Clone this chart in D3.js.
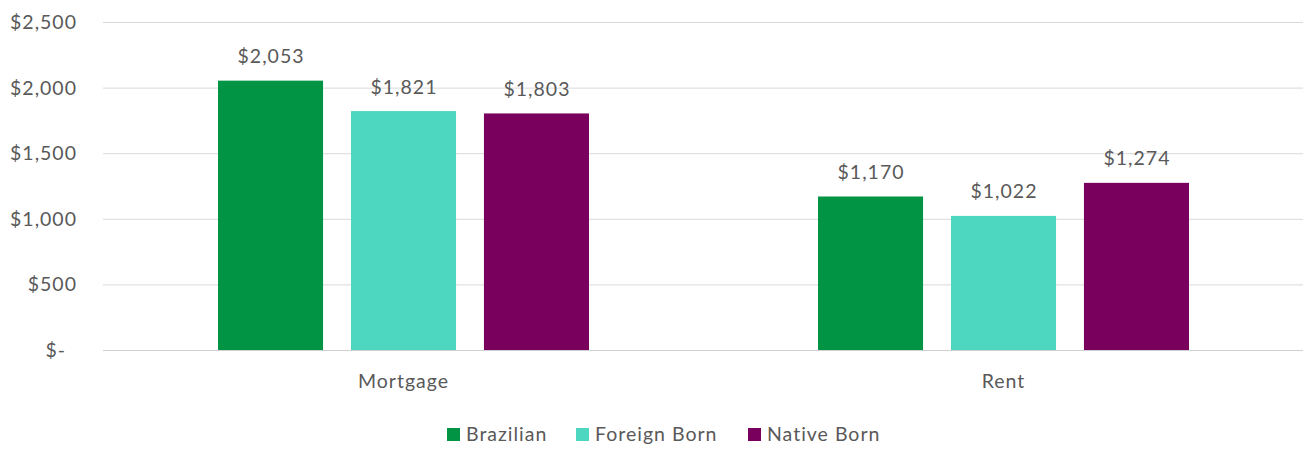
<!DOCTYPE html>
<html><head><meta charset="utf-8">
<script src="https://cdn.jsdelivr.net/npm/d3@7"></script>
<style>
body{margin:0;background:#fff;}
text{font-family:Lato,"Open Sans",sans-serif;fill:#595959;letter-spacing:1px;}
</style></head>
<body><svg id="c" width="1305" height="449"></svg>
<script>
const categories = ["Mortgage", "Rent"];
const seriesNames = ["Brazilian", "Foreign Born", "Native Born"];
const brazilian = [2053, 1170];
const foreignBorn = [1821, 1022];
const nativeBorn = [1803, 1274];
const yTicks = [0, 500, 1000, 1500, 2000, 2500];
const colors = ["#009444", "#4dd6c0", "#7a005e"];

const values = [brazilian, foreignBorn, nativeBorn];
const svg = d3.select("#c");
const x0 = d3.scaleBand().domain(categories).range([103, 1303]);
const x1 = d3.scaleBand().domain(seriesNames).range([115, 486]).paddingInner(0.21).paddingOuter(0);
const y = d3.scaleLinear().domain([0, 2500]).range([350, 22]);
const fmt = d3.format(",");
const FS = 19.5;

// gridlines
svg.append("g").selectAll("line").data(yTicks).join("line")
  .attr("x1", 103).attr("x2", 1303)
  .attr("y1", d => y(d) + 0.5).attr("y2", d => y(d) + 0.5)
  .attr("stroke", d => d === 0 ? "#d0d0d0" : "#d9d9d9").attr("stroke-width", 1);

// y labels
svg.append("g").selectAll("text").data(yTicks).join("text")
  .attr("x", d => d === 0 ? 66 : 77).attr("y", d => y(d) + 7)
  .attr("text-anchor", "end").attr("font-size", FS)
  .text(d => d === 0 ? "$-" : "$" + fmt(d));

// bars
const groups = svg.append("g").selectAll("g").data(categories).join("g")
  .attr("transform", d => `translate(${x0(d)},0)`);
groups.each(function(cat, ci) {
  const g = d3.select(this);
  seriesNames.forEach((s, si) => {
    const v = values[si][ci];
    g.append("rect").attr("x", x1(s)).attr("width", x1.bandwidth())
      .attr("y", y(v)).attr("height", y(0) - y(v)).attr("fill", colors[si]);
    g.append("text").attr("x", x1(s) + x1.bandwidth() / 2 + 0.5).attr("y", y(v) - 17.5)
      .attr("text-anchor", "middle").attr("font-size", FS).text("$" + fmt(v));
  });
});

// category labels
svg.append("g").selectAll("text").data(categories).join("text")
  .attr("x", d => x0(d) + x0.bandwidth() / 2 + 0.5).attr("y", 388)
  .attr("text-anchor", "middle").attr("font-size", FS).text(d => d);

// legend
const legX = [447, 576, 748];
const leg = svg.append("g").selectAll("g").data(seriesNames).join("g")
  .attr("transform", (d, i) => `translate(${legX[i]},0)`);
leg.append("rect").attr("x", 0).attr("y", 428).attr("width", 13).attr("height", 13)
  .attr("fill", (d, i) => colors[i]);
leg.append("text").attr("x", 19).attr("y", 441).attr("font-size", FS).text(d => d);
</script></body></html>
